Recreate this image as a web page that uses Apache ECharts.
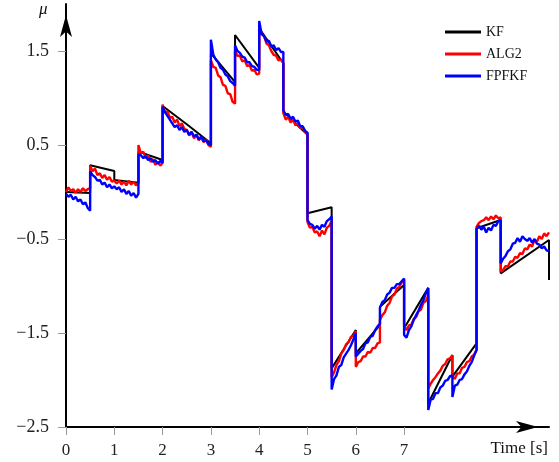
<!DOCTYPE html>
<html>
<head>
<meta charset="utf-8">
<script src="https://cdn.jsdelivr.net/npm/echarts@6/dist/echarts.min.js"></script>
<style>html,body{margin:0;padding:0;background:#fff}#c{width:559px;height:462px}</style>
</head>
<body>
<div id="c"></div>
<script>
// ---- data ----
var seriesNames = ['KF', 'ALG2', 'FPFKF'];
var xTickValues = [0, 1, 2, 3, 4, 5, 6, 7];
var yTickValues = [-2.5, -1.5, -0.5, 0.5, 1.5];

// KF: piecewise straight lines [time, value]
var kfTime = [0, 0.5, 0.5, 1.0, 1.0, 1.5, 1.5, 2.0, 2.0, 2.5, 3.0, 3.0, 3.5, 3.5, 4.0, 4.0, 4.5, 4.5, 5.0, 5.0, 5.5, 5.5, 6.0, 6.0, 6.5, 6.5, 7.0, 7.0, 7.5, 7.5, 8.0, 8.0, 8.5, 8.5, 9.0, 9.0, 10.0, 10.0];
var kfValue = [0.0, -0.01, 0.284, 0.223, 0.128, 0.099, 0.429, 0.34, 0.915, 0.72, 0.518, 1.476, 1.17, 1.67, 1.32, 1.74, 1.37, 0.854, 0.61, -0.227, -0.163, -1.876, -1.468, -1.716, -1.415, -1.22, -0.99, -1.45, -1.02, -2.248, -1.734, -1.965, -1.61, -0.386, -0.298, -0.865, -0.511, -0.936];

// sampling segments (start, end) for the two filtered estimates
var segments = [[0,0.5],[0.5,1],[1,1.5],[1.5,2],[2,3],[3,3.5],[3.5,4],[4,4.5],[4.5,5],[5,5.5],[5.5,6],[6,6.5],[6.5,7],[7,7.5],[7.5,8],[8,8.5],[8.5,9],[9,10]];

var alg2Values = [
  [0.0, 0.05, 0.01, 0.03, -0.01, 0.03, 0.0, 0.04, 0.01, 0.03, 0.04],
  [0.28, 0.22, 0.25, 0.18, 0.2, 0.15, 0.18, 0.13, 0.16, 0.11, 0.12],
  [0.13, 0.09, 0.12, 0.08, 0.11, 0.07, 0.12, 0.08, 0.11, 0.07, 0.1],
  [0.5, 0.41, 0.43, 0.36, 0.39, 0.32, 0.35, 0.29, 0.32, 0.28, 0.31],
  [0.93, 0.84, 0.86, 0.79, 0.8, 0.74, 0.77, 0.7, 0.73, 0.67, 0.66, 0.6, 0.64, 0.57, 0.61, 0.55, 0.58, 0.53, 0.56, 0.5, 0.48],
  [1.4, 1.33, 1.32, 1.24, 1.22, 1.14, 1.13, 1.05, 1.04, 0.96, 0.94],
  [1.5, 1.45, 1.45, 1.39, 1.4, 1.34, 1.35, 1.29, 1.3, 1.25, 1.26],
  [1.76, 1.68, 1.66, 1.58, 1.56, 1.5, 1.46, 1.45, 1.4, 1.41, 1.37],
  [0.84, 0.77, 0.8, 0.74, 0.77, 0.71, 0.73, 0.68, 0.69, 0.64, 0.62],
  [-0.32, -0.38, -0.37, -0.43, -0.42, -0.47, -0.41, -0.45, -0.38, -0.36, -0.31],
  [-1.97, -1.92, -1.84, -1.8, -1.72, -1.68, -1.62, -1.6, -1.54, -1.53, -1.48],
  [-1.86, -1.81, -1.8, -1.75, -1.75, -1.7, -1.71, -1.66, -1.66, -1.61, -1.6],
  [-1.36, -1.31, -1.28, -1.21, -1.18, -1.11, -1.09, -1.03, -1.01, -0.96, -0.93],
  [-1.42, -1.47, -1.42, -1.41, -1.35, -1.33, -1.27, -1.25, -1.18, -1.16, -1.1],
  [-2.09, -2.04, -2.0, -1.97, -1.93, -1.9, -1.85, -1.83, -1.78, -1.77, -1.74],
  [-1.96, -1.99, -1.93, -1.93, -1.87, -1.86, -1.81, -1.8, -1.75, -1.73, -1.68],
  [-0.37, -0.33, -0.31, -0.3, -0.27, -0.3, -0.26, -0.29, -0.25, -0.28, -0.27],
  [-0.85, -0.83, -0.79, -0.79, -0.74, -0.74, -0.69, -0.7, -0.65, -0.66, -0.6, -0.61, -0.56, -0.58, -0.51, -0.53, -0.47, -0.5, -0.44, -0.47, -0.43]
];

var fpfkfValues = [
  [-0.02, -0.05, -0.03, -0.08, -0.05, -0.1, -0.08, -0.13, -0.11, -0.17, -0.2],
  [0.22, 0.18, 0.16, 0.12, 0.13, 0.08, 0.1, 0.05, 0.08, 0.04, 0.06],
  [0.07, 0.03, 0.05, 0.0, 0.03, -0.02, 0.01, -0.04, -0.01, -0.06, -0.02],
  [0.4, 0.39, 0.36, 0.38, 0.34, 0.36, 0.32, 0.34, 0.3, 0.33, 0.31],
  [0.91, 0.85, 0.81, 0.77, 0.73, 0.69, 0.71, 0.66, 0.69, 0.64, 0.66, 0.61, 0.64, 0.59, 0.61, 0.56, 0.59, 0.54, 0.55, 0.51, 0.5],
  [1.62, 1.46, 1.41, 1.38, 1.32, 1.3, 1.25, 1.23, 1.18, 1.16, 1.13],
  [1.56, 1.5, 1.48, 1.44, 1.43, 1.38, 1.38, 1.34, 1.33, 1.3, 1.3],
  [1.82, 1.68, 1.66, 1.6, 1.61, 1.55, 1.56, 1.51, 1.53, 1.49, 1.49],
  [0.87, 0.82, 0.83, 0.78, 0.8, 0.75, 0.76, 0.7, 0.7, 0.65, 0.63],
  [-0.3, -0.34, -0.35, -0.39, -0.36, -0.4, -0.35, -0.37, -0.31, -0.29, -0.26],
  [-2.1, -1.99, -1.95, -1.86, -1.84, -1.76, -1.72, -1.68, -1.63, -1.57, -1.5],
  [-1.75, -1.72, -1.69, -1.67, -1.61, -1.6, -1.54, -1.53, -1.47, -1.43, -1.4],
  [-1.23, -1.17, -1.15, -1.09, -1.07, -1.02, -1.02, -0.98, -0.98, -0.95, -0.92],
  [-1.52, -1.55, -1.47, -1.43, -1.36, -1.31, -1.26, -1.2, -1.15, -1.08, -1.02],
  [-2.32, -2.21, -2.2, -2.14, -2.14, -2.08, -2.06, -2.01, -2.0, -1.96, -1.95],
  [-2.18, -2.06, -2.05, -2.0, -1.99, -1.94, -1.91, -1.85, -1.81, -1.74, -1.68],
  [-0.39, -0.36, -0.4, -0.37, -0.43, -0.38, -0.41, -0.35, -0.36, -0.31, -0.3],
  [-0.76, -0.71, -0.68, -0.63, -0.61, -0.55, -0.54, -0.49, -0.53, -0.47, -0.5, -0.52, -0.49, -0.54, -0.5, -0.55, -0.56, -0.6, -0.58, -0.62, -0.63]
];

// ---- build ----
function pairs(times, values) {
  var out = [];
  for (var i = 0; i < times.length; i++) out.push([times[i], values[i]]);
  return out;
}
function sampled(segs, vals) {
  var out = [];
  for (var s = 0; s < segs.length; s++) {
    var a = segs[s][0], b = segs[s][1], v = vals[s], n = v.length;
    for (var j = 0; j < n; j++) out.push([a + j * (b - a) / (n - 1), v[j]]);
  }
  return out;
}

var serif = '"Liberation Serif", "DejaVu Serif", serif';
var chart = echarts.init(document.getElementById('c'), null, { renderer: 'canvas' });
chart.setOption({
  animation: false,
  backgroundColor: '#fff',
  grid: { left: 66, right: 10, top: 4, bottom: 35, containLabel: false, outerBoundsMode: 'none' },
  legend: {
    orient: 'vertical', left: 440, top: 19,
    icon: 'rect', itemWidth: 36, itemHeight: 3, itemGap: 6,
    textStyle: { fontFamily: serif, fontSize: 14, color: '#111', lineHeight: 16 },
    data: seriesNames
  },
  xAxis: {
    type: 'value', min: 0, max: 10,
    name: 'Time [s]', nameLocation: 'end', nameGap: -1,
    nameTextStyle: { fontFamily: serif, fontSize: 17, color: '#111', align: 'right', verticalAlign: 'top', padding: [13, 0, 0, 0] },
    axisLine: { show: true, onZero: false, lineStyle: { color: '#000', width: 2 }, symbol: ['none', 'arrow'], symbolSize: [9, 22], symbolOffset: [0, -11] },
    axisTick: { show: true, length: 8, customValues: xTickValues, lineStyle: { color: '#999', width: 1 } },
    axisLabel: { customValues: xTickValues, margin: 15, fontFamily: serif, fontSize: 17, color: '#222' },
    splitLine: { show: false }
  },
  yAxis: {
    type: 'value', min: -2.5, max: 2.0,
    axisLine: { show: true, onZero: false, lineStyle: { color: '#000', width: 2 }, symbol: ['none', 'arrow'], symbolSize: [9, 22], symbolOffset: [0, -11] },
    axisTick: { show: true, length: 8, customValues: yTickValues, lineStyle: { color: '#999', width: 1 } },
    axisLabel: {
      customValues: yTickValues, margin: 17, fontFamily: serif, fontSize: 18, color: '#222',
      formatter: function (v) { return (v < 0 ? '\u2212' : '') + Math.abs(v).toFixed(1); }
    },
    splitLine: { show: false }
  },
  graphic: [{
    type: 'text', left: 39, top: 1,
    style: { text: '\u03bc', font: 'italic 17px ' + serif, fill: '#111' }
  }],
  series: [
    { name: 'KF', type: 'line', showSymbol: false, symbol: 'none', color: '#000',
      lineStyle: { width: 2, color: '#000' }, data: pairs(kfTime, kfValue), z: 2 },
    { name: 'ALG2', type: 'line', showSymbol: false, symbol: 'none', color: '#ff0000',
      lineStyle: { width: 2.4, color: '#ff0000' }, data: sampled(segments, alg2Values), z: 3 },
    { name: 'FPFKF', type: 'line', showSymbol: false, symbol: 'none', color: '#0000ff',
      lineStyle: { width: 2.4, color: '#0000ff' }, data: sampled(segments, fpfkfValues), z: 4 }
  ]
});
</script>
</body>
</html>
